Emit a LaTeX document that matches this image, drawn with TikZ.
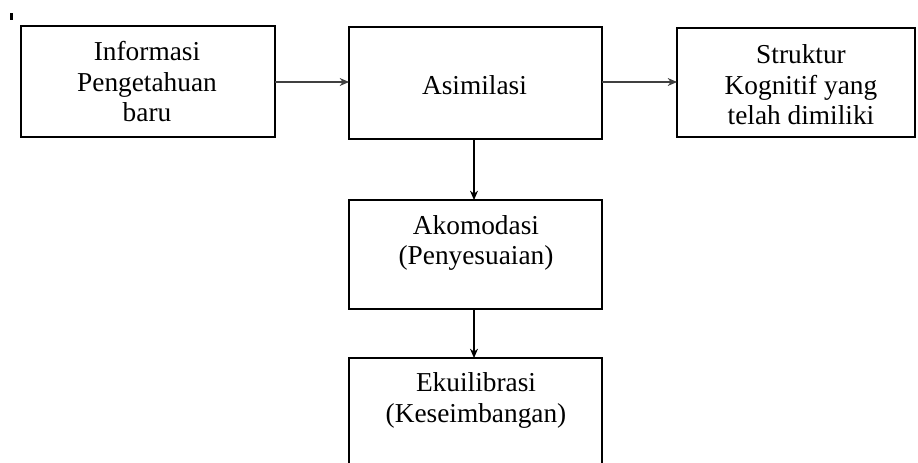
\documentclass[tikz,border=0pt]{standalone}
\usepackage{fontspec}
\setmainfont{Liberation Serif}
\usetikzlibrary{arrows.meta}
\begin{document}
\begin{tikzpicture}[x=0.75pt,y=-0.75pt,
  box/.style={draw=black,line width=1.1pt,inner sep=0pt,outer sep=0pt},
  lbl/.style={anchor=base,align=center,inner sep=0pt,font=\fontsize{20.5pt}{23pt}\selectfont},
  arr/.style={-{Stealth[length=7pt,width=6pt]},line width=0.8pt},
  garr/.style={arr,draw=black!75,fill=black!75}]
\clip (0,0) rectangle (918,463);
\useasboundingbox (0,0) rectangle (918,463);
\fill[black] (10,13) rectangle (12.5,20);
\node[box,minimum width=190.5pt,minimum height=83.25pt] (b1) at (148,81.5) {};
\node[box,minimum width=189.75pt,minimum height=84pt] (b2) at (475.5,83) {};
\node[box,minimum width=178.5pt,minimum height=81.75pt] (b3) at (796,82.5) {};
\node[box,minimum width=189.75pt,minimum height=81.75pt] (b4) at (475.5,254.5) {};
\node[box,minimum width=189.75pt,minimum height=84pt] (b5) at (475.5,414) {};
\node[lbl] (t1) at (147,122) {Informasi\\Pengetahuan\\baru};
\node[lbl] (t2) at (474.5,95) {Asimilasi};
\node[lbl] (t3) at (801,125) {Struktur\\Kognitif yang\\telah dimiliki};
\node[lbl] (t4) at (476,265) {Akomodasi\\(Penyesuaian)};
\node[lbl] (t5) at (476,422) {Ekuilibrasi\\(Keseimbangan)};
\draw[garr] (b1.east |- 0,82) -- (b2.west |- 0,82);
\draw[garr] (b2.east |- 0,82) -- (b3.west |- 0,82);
\draw[arr] (b2.south -| 474,0) -- (b4.north -| 474,0);
\draw[arr] (b4.south -| 474,0) -- (b5.north -| 474,0);
\end{tikzpicture}
\end{document}
